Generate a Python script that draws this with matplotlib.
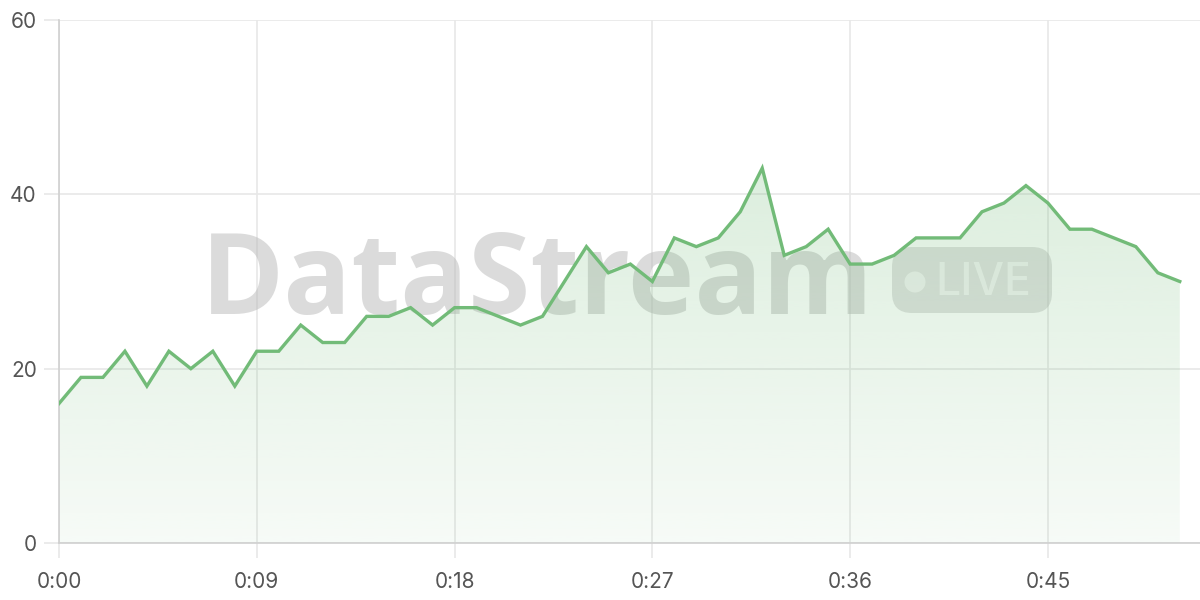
import matplotlib
matplotlib.use("Agg")
import matplotlib.pyplot as plt
from matplotlib.patches import FancyBboxPatch, Circle
import numpy as np

# seconds since start, one sample per second
seconds = list(range(52))
values = [16, 19, 19, 22, 18, 22, 20, 22, 18, 22,
          22, 25, 23, 23, 26, 26, 27, 25, 27, 27,
          26, 25, 26, 30, 34, 31, 32, 30, 35, 34,
          35, 38, 43, 33, 34, 36, 32, 32, 33, 35,
          35, 35, 38, 39, 41, 39, 36, 36, 35, 34,
          31, 30]
x_ticks = [0, 9, 18, 27, 36, 45]
x_labels = ["0:00", "0:09", "0:18", "0:27", "0:36", "0:45"]
y_ticks = [0, 20, 40, 60]

line_color = "#72bb78"
grid_color = "#e8e8e8"
axis_color = "#d0d0d0"
text_color = "#555555"

plt.rcParams['font.family'] = ['Inter', 'DejaVu Sans']

fig = plt.figure(figsize=(12, 6), dpi=100)
ax = fig.add_axes([59 / 1200, 57 / 600, 1141 / 1200, 523 / 600])
ax.set_xlim(0, 51.92)
ax.set_ylim(0, 60)

# gradient fill under the line, clipped to the area polygon
poly = ax.fill_between(seconds, values, 0, color="none", lw=0, zorder=2)
grad = np.zeros((256, 1, 4))
grad[:, 0, :3] = matplotlib.colors.to_rgb(line_color)
grad[:, 0, 3] = np.linspace(0.32, 0.06, 256)
img = ax.imshow(grad, extent=[0, 51, 0, 60], origin="upper", aspect="auto",
                zorder=2, interpolation="bicubic")
img.set_clip_path(poly.get_paths()[0], transform=ax.transData)

ax.plot(seconds, values, color=line_color, lw=2.4, zorder=4,
        solid_joinstyle="miter")

# watermark (placed in figure inches)
inch = fig.dpi_scale_trans
ax.text(2.01, 2.86, "DataStream", transform=inch, fontsize=81,
        fontweight="bold", family=["Open Sans", "DejaVu Sans"],
        color=(0.72, 0.72, 0.72, 0.5), va="baseline", ha="left", zorder=1)
badge = FancyBboxPatch((8.92, 2.87), 1.6, 0.66,
                       boxstyle="round,pad=0,rounding_size=0.2",
                       transform=inch, fc=(0.72, 0.72, 0.72, 0.42), ec="none",
                       zorder=1, clip_on=False)
ax.add_patch(badge)
ax.add_patch(Circle((9.15, 3.18), 0.105, transform=inch,
                    fc=(1, 1, 1, 0.6), ec="none", zorder=1, clip_on=False))
ax.text(9.35, 3.05, "LIVE", transform=inch, fontsize=32, fontweight="medium",
        color=(1, 1, 1, 0.6), va="baseline", ha="left", zorder=1)

ax.set_xticks(x_ticks)
ax.set_xticklabels(x_labels)
ax.set_yticks(y_ticks)
ax.grid(True, color=grid_color, lw=1.2, zorder=0)
ax.set_axisbelow(True)
ax.tick_params(axis="both", colors=grid_color, length=11, width=1.2,
               labelcolor=text_color, labelsize=15, pad=5)
ax.tick_params(axis="x", pad=10)
for side in ["top", "right"]:
    ax.spines[side].set_visible(False)
for side in ["left", "bottom"]:
    ax.spines[side].set_color(axis_color)
    ax.spines[side].set_linewidth(1.2)

fig.savefig("out.png", dpi=100)
